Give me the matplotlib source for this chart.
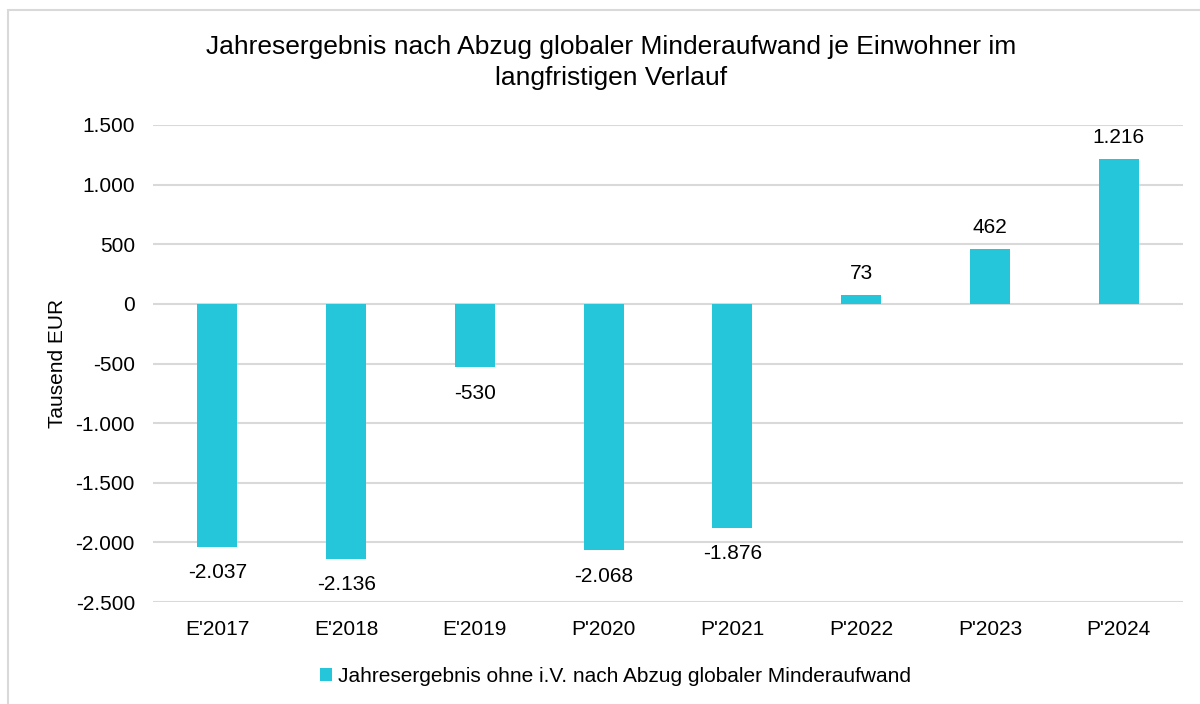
import matplotlib
matplotlib.use("Agg")
import matplotlib.pyplot as plt
from matplotlib.patches import Rectangle

categories = ["E'2017", "E'2018", "E'2019", "P'2020", "P'2021", "P'2022", "P'2023", "P'2024"]
values = [-2037, -2136, -530, -2068, -1876, 73, 462, 1216]
yticks = [-2500, -2000, -1500, -1000, -500, 0, 500, 1000, 1500]
series_name = "Jahresergebnis ohne i.V. nach Abzug globaler Minderaufwand"
title_lines = ["Jahresergebnis nach Abzug globaler Minderaufwand je Einwohner im",
               "langfristigen Verlauf"]
ylabel = "Tausend EUR"

plt.rcParams['font.family'] = ['Liberation Sans', 'DejaVu Sans']

def de_fmt(v):
    s = f"{abs(v):,}".replace(",", ".")
    return ("-" if v < 0 else "") + s

color = "#26C6DA"
fig = plt.figure(figsize=(12, 7.04), dpi=100)
fig.patches.append(Rectangle((8/1200, -0.1), 1.2, 1.1 - 10/704, transform=fig.transFigure,
                             fill=False, edgecolor="#D9D9D9", linewidth=1.5))
ax = fig.add_axes([153/1200, 1 - 602/704, 1030/1200, (602 - 125)/704])

x = list(range(len(categories)))
ax.bar(x, values, width=0.31, color=color, zorder=3, label=series_name)
ax.set_xlim(-0.5, len(categories) - 0.5)
ax.set_ylim(-2500, 1500)
ax.set_yticks(yticks)
ax.set_yticklabels([de_fmt(v) for v in yticks], fontsize=15)
ax.set_xticks(x)
ax.set_xticklabels(categories, fontsize=15)
ax.tick_params(axis='y', length=0, pad=13)
ax.tick_params(axis='x', length=0, pad=13)
ax.grid(axis='y', color="#D9D9D9", linewidth=1.5, zorder=0)
for s in ax.spines.values():
    s.set_visible(False)

for xi, v in zip(x, values):
    if v >= 0:
        ax.annotate(de_fmt(v), (xi, v), xytext=(0, 8.5), textcoords='offset points',
                    ha='center', va='bottom', fontsize=15)
    else:
        ax.annotate(de_fmt(v), (xi, v), xytext=(0, -12), textcoords='offset points',
                    ha='center', va='top', fontsize=15)

ax.set_ylabel(ylabel, fontsize=15, labelpad=6)
fig.text(0.509, 1 - 47/704, title_lines[0], ha='center', va='center', fontsize=19)
fig.text(0.509, 1 - 78/704, title_lines[1], ha='center', va='center', fontsize=19)

leg = fig.legend(loc='center', bbox_to_anchor=(0.513, 1 - 676/704), frameon=False,
                 fontsize=15, handlelength=0.6, handleheight=0.6, handletextpad=0.3)

fig.savefig("out.png", dpi=100)
